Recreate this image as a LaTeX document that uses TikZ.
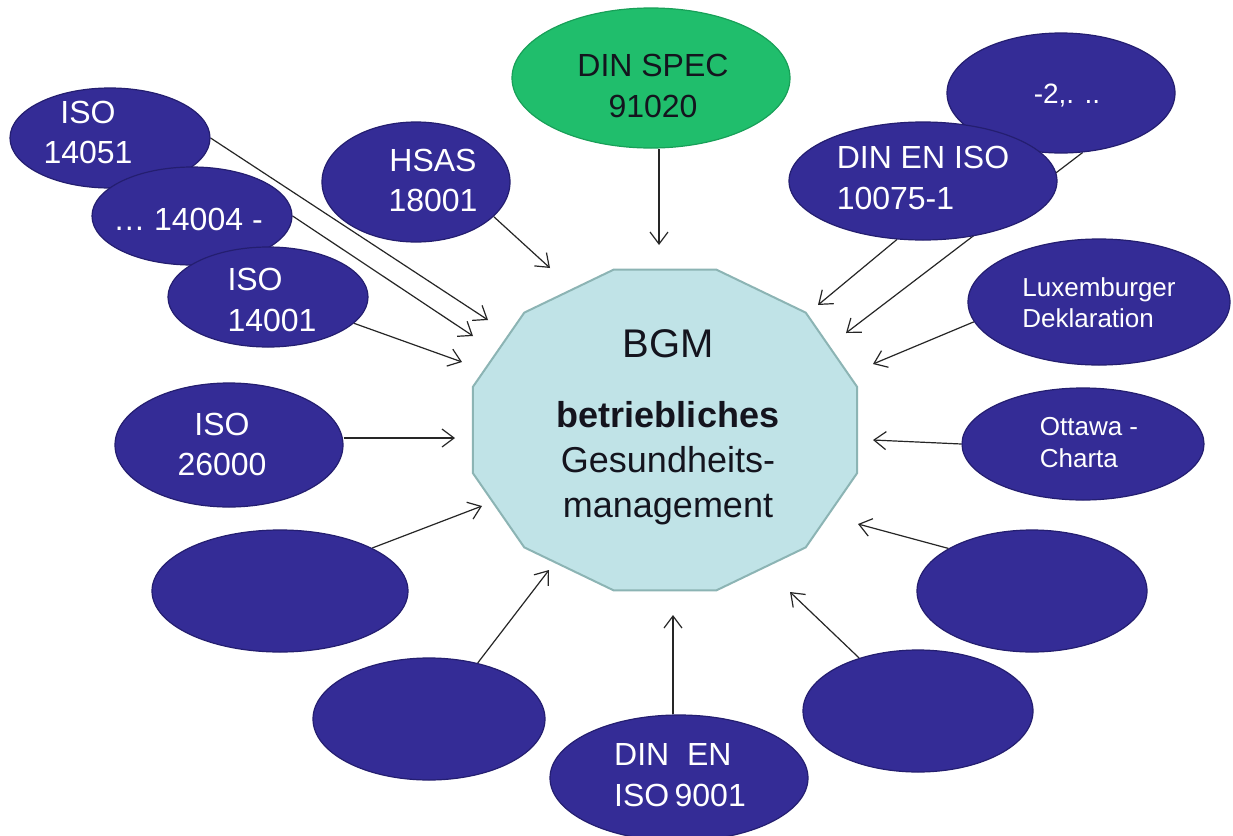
\documentclass[tikz,border=0pt]{standalone}
\usepackage{fontspec}
\setmainfont{Liberation Sans}
\usetikzlibrary{shapes.geometric,arrows.meta}
\definecolor{eblue}{RGB}{52,44,150}
\definecolor{eblueline}{RGB}{36,30,112}
\definecolor{egreen}{RGB}{32,190,108}
\definecolor{egreenline}{RGB}{24,160,88}
\definecolor{bgmfill}{RGB}{192,227,231}
\definecolor{bgmline}{RGB}{140,180,180}
\definecolor{ctext}{RGB}{20,20,30}
\pgfdeclarelayer{background}
\pgfsetlayers{background,main}
\tikzset{
  oval/.style 2 args={ellipse, minimum width=#1pt, minimum height=#2pt, inner sep=0pt},
  blueoval/.style={fill=eblue, draw=eblueline, line width=0.6pt},
  greenoval/.style={fill=egreen, draw=egreenline, line width=0.6pt},
  wtext/.style={text=white, align=center, font=\fontsize{16}{20}\selectfont},
  wtextl/.style={text=white, align=left, font=\fontsize{16}{20.5}\selectfont},
  wsmall/.style={text=white, align=left, font=\fontsize{13}{15.5}\selectfont},
  btext/.style={text=ctext, align=center, font=\fontsize{16}{20.5}\selectfont},
  bgmpoly/.style={fill=bgmfill, draw=bgmline, line width=1pt},
  bgmtext/.style={text=ctext, align=center, font=\fontsize{18}{22.5}\selectfont, inner sep=0pt},
  conn/.style={draw=black!85, line width=0.6pt, -{Straight Barb[length=6pt,width=9pt]}}
}
\begin{document}
\begin{tikzpicture}[x=0.5pt,y=-0.5pt]
\useasboundingbox (0,0) rectangle (1233,836);

% central dodecagon
\draw[bgmpoly] (857.2,387.0) -- (805.7,312.6) -- (716.5,269.7) -- (613.5,269.7)
  -- (524.3,312.6) -- (472.8,387.0) -- (472.8,473.0) -- (524.3,547.4)
  -- (613.5,590.3) -- (716.5,590.3) -- (805.7,547.4) -- (857.2,473.0) -- cycle;
\node[bgmtext] (bgm) at (668,427.5)
  {{\fontsize{20}{22.5}\selectfont BGM}\\[12.5pt]{\bfseries betriebliches}\\Gesundheits-\\management};

% outer ellipses
\node[oval={100}{50}, blueoval, label={[wtext,xshift=-11pt,yshift=3pt]center:{ISO\\14051}}] (iso14051) at (110,138) {};
\node[oval={100}{49}, blueoval, label={[wtext,xshift=-2pt,yshift=-1.5pt]center:{… 14004 -}}] (iso14004) at (192,216) {};
\node[oval={100}{50}, blueoval, label={[wtextl,xshift=2pt,yshift=-1.5pt]center:{ISO\\14001}}] (iso14001) at (268,297) {};
\node[oval={94}{60}, blueoval, label={[wtext,xshift=8.5pt,yshift=1pt]center:{HSAS\\18001}}] (hsas) at (416,182) {};
\node[oval={139}{70}, greenoval, label={[btext,xshift=1pt,yshift=-4pt]center:{DIN SPEC\\91020}}] (spec) at (651,78) {};
\node[oval={114}{60}, blueoval, label={[wsmall,font=\fontsize{14}{16}\selectfont,xshift=3pt,yshift=-1.5pt]center:{-2,. ..}}] (part2) at (1061,93) {};
\node[oval={134}{59}, blueoval, label={[wtextl,xshift=0pt,yshift=1.5pt]center:{DIN EN ISO\\10075-1}}] (iso10075) at (923,181) {};
\node[oval={131}{63}, blueoval, label={[wsmall,xshift=0pt,yshift=-0.5pt]center:{Luxemburger\\Deklaration}}] (lux) at (1099,302) {};
\node[oval={121}{56}, blueoval, label={[wsmall,font=\fontsize{13}{16}\selectfont,xshift=3pt,yshift=0.5pt]center:{Ottawa -\\Charta}}] (ottawa) at (1083,444) {};
\node[oval={115}{61}, blueoval] (rightA) at (1032,591) {};
\node[oval={115}{61}, blueoval] (rightB) at (918,711) {};
\node[oval={129}{63}, blueoval, label={[wtextl,xshift=0.5pt,yshift=1.25pt]center:{DIN \ EN\\ISO\,9001}}] (iso9001) at (679,778) {};
\node[oval={116}{61}, blueoval] (leftB) at (429,719) {};
\node[oval={128}{61}, blueoval] (leftA) at (280,591) {};
\node[oval={114}{62}, blueoval, label={[wtext,xshift=-3.5pt,yshift=0.5pt]center:{ISO\\26000}}] (iso26000) at (229,445) {};

% arrow targets
\coordinate (t1) at (488,320);
\coordinate (t2) at (473,336);
\coordinate (t3) at (462,362);
\coordinate (t4) at (550,268);
\coordinate (t5) at (659,245);
\coordinate (t6) at (818,305);
\coordinate (t7) at (846,333);
\coordinate (t8) at (873,364);
\coordinate (t9) at (873,440);
\coordinate (t10) at (858,524);
\coordinate (t11) at (790,592);
\coordinate (t12) at (673,615);
\coordinate (t13) at (549,570);
\coordinate (t14) at (482,506);
\coordinate (t15) at (455,438);

\begin{pgfonlayer}{background}
\fill[white] (0,0) rectangle (1233,836);
\draw[conn] (iso14051.east) -- (t1);
\draw[conn] (iso14004.east) -- (t2);
\draw[conn] (iso14001.-17) -- (t3);
\draw[conn] (hsas.-24) -- (t4);
\draw[conn] (t5 |- spec.south) -- (t5);
\draw[conn] (iso10075.-114) -- (t6);
\draw[conn] (part2.-70) -- (t7);
\draw[conn] (lux.-171) -- (t8);
\draw[conn] (ottawa.west) -- (t9);
\draw[conn] (rightA.153) -- (t10);
\draw[conn] (rightB.138) -- (t11);
\draw[conn] (t12 |- iso9001.north) -- (t12);
\draw[conn] (leftB.49) -- (t13);
\draw[conn] (leftA.25) -- (t14);
\draw[conn] (iso26000.east |- t15) -- (t15);
\end{pgfonlayer}
\end{tikzpicture}
\end{document}
